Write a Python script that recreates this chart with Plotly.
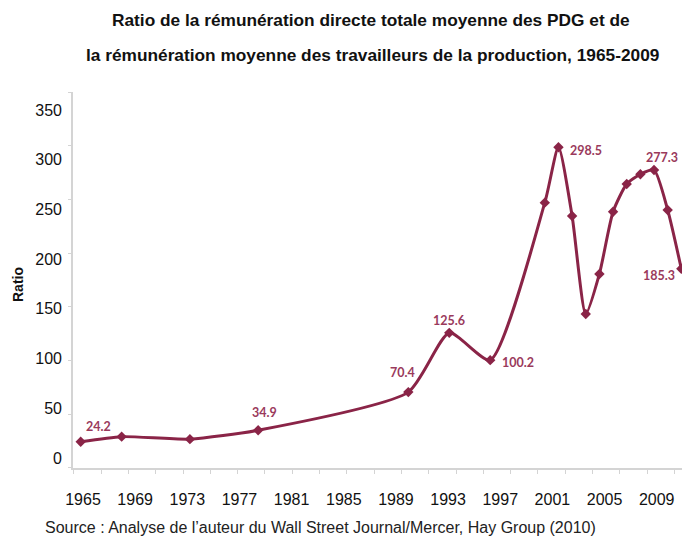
import plotly.graph_objects as go

# Data
years = [1965, 1968, 1973, 1978, 1989, 1992, 1995, 1999, 2000, 2001, 2002,
         2003, 2004, 2005, 2006, 2007, 2008, 2009]
ratio = [24.2, 28.9, 26.6, 34.9, 70.4, 125.6, 100.2, 246.9, 298.5, 234.5, 143.2,
         180.5, 238.5, 264.3, 273.4, 277.3, 240.1, 185.3]

labelled_years = [1965, 1978, 1989, 1992, 1995, 2000, 2007, 2009]
label_shifts = [(18, 15), (6, 18), (-6, 20), (0, 12), (28, -2), (28, -3), (8, 13), (-22, -7)]

x_tick_labels = [str(y) for y in range(1965, 2010, 4)]
y_tick_labels = [str(v) for v in range(0, 351, 50)]

title_line1 = "Ratio de la rémunération directe totale moyenne des PDG et de"
title_line2 = "la rémunération moyenne des travailleurs de la production, 1965-2009"
source_text = "Source : Analyse de l\u2019auteur du Wall Street Journal/Mercer, Hay Group (2010)"

LINE = "#8a2447"
LABEL = "#9a3a5c"
AXIS = "#d4d4d4"

fig = go.Figure()
fig.add_trace(go.Scatter(
    x=years, y=ratio, mode="lines+markers",
    line=dict(color=LINE, width=3, shape="spline", smoothing=0.6),
    marker=dict(symbol="diamond", size=8, color=LINE),
    showlegend=False, hoverinfo="x+y",
))
# invisible trace to activate overlay axes for labels
fig.add_trace(go.Scatter(x=[1965], y=[0], xaxis="x2", yaxis="y2",
                         mode="markers", marker=dict(opacity=0),
                         showlegend=False, hoverinfo="skip"))

annotations = []
for yr, (dx, dy) in zip(labelled_years, label_shifts):
    v = ratio[years.index(yr)]
    annotations.append(dict(
        x=yr, y=v, xref="x", yref="y", text=f"<b>{v}</b>", showarrow=False,
        xshift=dx, yshift=dy, xanchor="center", yanchor="middle",
        font=dict(family="Lato, Open Sans, sans-serif", size=12.5, color=LABEL),
    ))

FONT = "Liberation Sans, Arial"
paper_texts = [
    dict(x=371, y=20, text=f"<b>{title_line1}</b>", xanchor="center",
         font=dict(family=FONT, size=17.3, color="#111")),
    dict(x=372, y=55, text=f"<b>{title_line2}</b>", xanchor="center",
         font=dict(family=FONT, size=17.3, color="#111")),
    dict(x=18, y=285, text="<b>Ratio</b>", textangle=-90, xanchor="center",
         font=dict(family=FONT, size=14, color="#111")),
    dict(x=43, y=527, text=source_text, xanchor="left",
         font=dict(family=FONT, size=16, color="#222")),
]

# convert pixel positions (from top-left) of paper annotations into paper fractions
L, R, T, B = 73, 0, 92, 69
W, H = 682, 537
pw, ph = W - L - R, H - T - B
for a in paper_texts:
    a["x"] = (a["x"] - L) / pw
    a["y"] = (H - a["y"] - B) / ph
    annotations.append(dict(a, xref="paper", yref="paper", showarrow=False, yanchor="middle"))

fig.update_layout(
    width=W, height=H,
    margin=dict(l=L, r=R, t=T, b=B, pad=0),
    paper_bgcolor="white", plot_bgcolor="white",
    annotations=annotations,
    xaxis=dict(range=[1964.436, 2009.05], showgrid=False, zeroline=False,
               showline=True, linecolor=AXIS, linewidth=1.5,
               ticks="outside", ticklen=4, tickcolor=AXIS, tick0=1964.5, dtick=2,
               showticklabels=False),
    yaxis=dict(range=[-0.3, 350], showgrid=False, zeroline=False,
               showline=True, linecolor=AXIS, linewidth=1.5,
               ticks="outside", ticklen=3, tickcolor=AXIS,
               tickvals=list(range(0, 351, 50)), showticklabels=False),
    xaxis2=dict(overlaying="x", side="bottom", anchor="y2",
                range=[1964.233, 2010.94], showgrid=False, zeroline=False,
                showline=False, ticks="",
                tickvals=[int(t) for t in x_tick_labels], ticktext=x_tick_labels,
                ticklabelstandoff=20,
                tickfont=dict(family=FONT, size=16, color="#111")),
    yaxis2=dict(overlaying="y", side="left", anchor="x2",
                range=[-10.06, 368.1], showgrid=False, zeroline=False,
                showline=False, ticks="",
                tickvals=[int(t) for t in y_tick_labels], ticktext=y_tick_labels,
                ticklabelstandoff=10,
                tickfont=dict(family=FONT, size=16, color="#111")),
)

fig.write_html("out.html", config={"displayModeBar": False},
               post_script="document.body.style.margin='0';document.body.style.overflow='hidden';")
